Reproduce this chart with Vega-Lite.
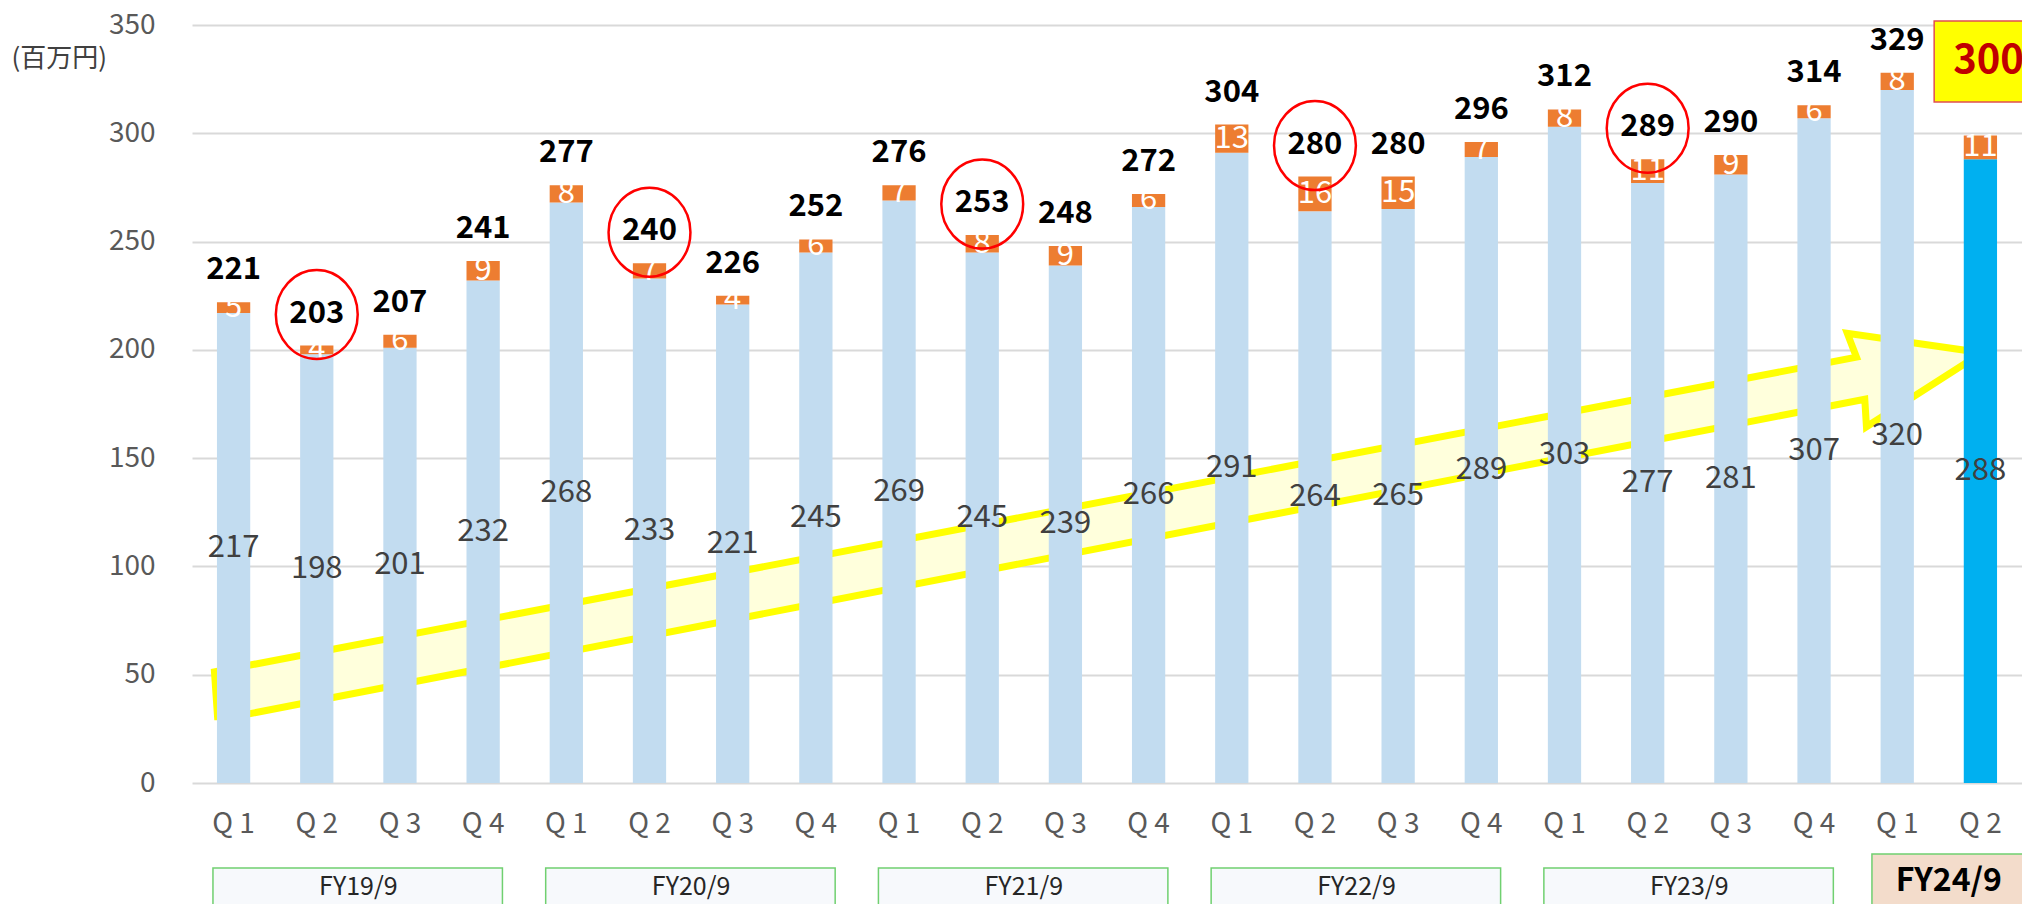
{
  "$schema": "https://vega.github.io/schema/vega-lite/v6.json",
  "width": 1830,
  "height": 758,
  "autosize": {"type": "none"},
  "padding": {"left": 192, "top": 25, "right": 0, "bottom": 121},
  "background": "white",
  "config": {
    "view": {"stroke": null},
    "font": "Noto Sans CJK JP",
    "axisY": {
      "domain": false, "ticks": false, "tickSize": 0, "labelPadding": 37,
      "labelFontSize": 28, "labelColor": "#595959", "labelFont": "Noto Sans CJK JP",
      "gridColor": "#D9D9D9", "gridWidth": 2,
      "titleAngle": 0, "titleAlign": "left", "titleBaseline": "middle", "titleX": -181, "titleY": 33,
      "titleFontSize": 26, "titleFontWeight": "normal", "titleColor": "#404040", "titleFont": "Noto Sans CJK JP"
    },
    "axisX": {
      "domain": false, "ticks": false, "tickSize": 0, "grid": false, "labelPadding": 41,
      "labelBaseline": "middle", "labelFontSize": 28, "labelColor": "#595959", "labelFont": "Noto Sans CJK JP",
      "labelAngle": 0, "title": null
    }
  },
  "datasets": {
    "main": [
      {"q": "FY19-Q1", "base": 217, "other": 5, "total": 221},
      {"q": "FY19-Q2", "base": 198, "other": 4, "total": 203},
      {"q": "FY19-Q3", "base": 201, "other": 6, "total": 207},
      {"q": "FY19-Q4", "base": 232, "other": 9, "total": 241},
      {"q": "FY20-Q1", "base": 268, "other": 8, "total": 277},
      {"q": "FY20-Q2", "base": 233, "other": 7, "total": 240},
      {"q": "FY20-Q3", "base": 221, "other": 4, "total": 226},
      {"q": "FY20-Q4", "base": 245, "other": 6, "total": 252},
      {"q": "FY21-Q1", "base": 269, "other": 7, "total": 276},
      {"q": "FY21-Q2", "base": 245, "other": 8, "total": 253},
      {"q": "FY21-Q3", "base": 239, "other": 9, "total": 248},
      {"q": "FY21-Q4", "base": 266, "other": 6, "total": 272},
      {"q": "FY22-Q1", "base": 291, "other": 13, "total": 304},
      {"q": "FY22-Q2", "base": 264, "other": 16, "total": 280},
      {"q": "FY22-Q3", "base": 265, "other": 15, "total": 280},
      {"q": "FY22-Q4", "base": 289, "other": 7, "total": 296},
      {"q": "FY23-Q1", "base": 303, "other": 8, "total": 312},
      {"q": "FY23-Q2", "base": 277, "other": 11, "total": 289},
      {"q": "FY23-Q3", "base": 281, "other": 9, "total": 290},
      {"q": "FY23-Q4", "base": 307, "other": 6, "total": 314},
      {"q": "FY24-Q1", "base": 320, "other": 8, "total": 329},
      {"q": "FY24-Q2", "base": 288, "other": 11, "total": 300}
    ],
    "arrow": [
      {"i": 1, "ax": 0.31, "ay": 29.1},
      {"i": 2, "ax": 0.27, "ay": 51.3},
      {"i": 3, "ax": 20.01, "ay": 196.6},
      {"i": 4, "ax": 19.9, "ay": 207.6},
      {"i": 5, "ax": 21.52, "ay": 198.7},
      {"i": 6, "ax": 20.13, "ay": 164.5},
      {"i": 7, "ax": 20.11, "ay": 177.2},
      {"i": 8, "ax": 0.31, "ay": 29.1}
    ],
    "fy": [
      {"fy": "FY19/9", "first": "FY19-Q1", "last": "FY19-Q4"},
      {"fy": "FY20/9", "first": "FY20-Q1", "last": "FY20-Q4"},
      {"fy": "FY21/9", "first": "FY21-Q1", "last": "FY21-Q4"},
      {"fy": "FY22/9", "first": "FY22-Q1", "last": "FY22-Q4"},
      {"fy": "FY23/9", "first": "FY23-Q1", "last": "FY23-Q4"}
    ]
  },
  "resolve": {"scale": {"x": "independent"}, "axis": {"x": "independent"}},
  "layer": [
    {
      "data": {"name": "arrow"},
      "mark": {"type": "line", "fill": "#FFFFDC", "stroke": "#FFFF00", "strokeWidth": 7, "strokeJoin": "miter", "interpolate": "linear"},
      "encoding": {
        "x": {"field": "ax", "type": "quantitative", "scale": {"domain": [0, 22], "nice": false, "zero": false}, "axis": null},
        "y": {"field": "ay", "type": "quantitative", "scale": {"domain": [0, 350], "nice": false}, "title": "(百万円)",
              "axis": {"values": [0, 50, 100, 150, 200, 250, 300, 350]}},
        "order": {"field": "i", "type": "quantitative"}
      }
    },
    {
      "layer": [
        {
          "data": {"name": "main"},
          "transform": [{"fold": ["base", "other"], "as": ["seg", "v"]}],
          "mark": {"type": "bar"},
          "encoding": {
            "x": {"field": "q", "type": "nominal", "scale": {"paddingInner": 0.6, "paddingOuter": 0.3},
                  "axis": {"labelExpr": "'Q ' + slice(datum.value, -1)"}},
            "y": {"field": "v", "type": "quantitative", "stack": "zero", "scale": {"domain": [0, 350], "nice": false}, "title": "(百万円)",
                  "axis": {"values": [0, 50, 100, 150, 200, 250, 300, 350]}},
            "order": {"field": "seg", "sort": "ascending"},
            "color": {"field": "seg", "type": "nominal", "legend": null,
                      "scale": {"domain": ["base", "other"], "range": ["#C2DCF0", "#ED7D31"]},
                      "condition": {"test": "datum.seg == 'base' && datum.q == 'FY24-Q2'", "value": "#00B0F0"}}
          }
        },
        {
          "data": {"name": "main"},
          "transform": [
            {"fold": ["base", "other"], "as": ["seg", "v"]},
            {"stack": "v", "groupby": ["q"], "sort": [{"field": "seg", "order": "ascending"}], "as": ["s0", "s1"]},
            {"fold": ["s0", "s1"], "as": ["edge", "ey"]},
            {"aggregate": [{"op": "mean", "field": "ey", "as": "mid"}], "groupby": ["q", "seg", "v"]}
          ],
          "mark": {"type": "text", "fontSize": 31, "baseline": "middle", "align": "center"},
          "encoding": {
            "x": {"field": "q", "type": "nominal"},
            "y": {"field": "mid", "type": "quantitative", "scale": {"domain": [0, 350], "nice": false}, "title": "(百万円)",
                  "axis": {"values": [0, 50, 100, 150, 200, 250, 300, 350]}},
            "text": {"field": "v"},
            "color": {"condition": {"test": "datum.seg == 'other'", "value": "#FFFFFF"}, "value": "#404040"}
          }
        },
        {
          "data": {"name": "main"},
          "transform": [
            {"fold": ["base", "other"], "as": ["seg", "v"]},
            {"stack": "v", "groupby": ["q"], "sort": [{"field": "seg", "order": "ascending"}], "as": ["s0", "s1"]},
            {"filter": "datum.seg == 'other' && datum.q != 'FY24-Q2'"}
          ],
          "mark": {"type": "text", "fontSize": 31, "fontWeight": "bold", "baseline": "middle", "align": "center", "dy": -32, "color": "#000000"},
          "encoding": {
            "x": {"field": "q", "type": "nominal"},
            "y": {"field": "s1", "type": "quantitative", "scale": {"domain": [0, 350], "nice": false}, "title": "(百万円)",
                  "axis": {"values": [0, 50, 100, 150, 200, 250, 300, 350]}},
            "text": {"field": "total"}
          }
        },
        {
          "data": {"name": "main"},
          "transform": [
            {"fold": ["base", "other"], "as": ["seg", "v"]},
            {"stack": "v", "groupby": ["q"], "sort": [{"field": "seg", "order": "ascending"}], "as": ["s0", "s1"]},
            {"filter": "datum.seg == 'other' && indexof(datum.q, 'Q2') >= 0 && datum.q != 'FY24-Q2'"}
          ],
          "mark": {"type": "point", "shape": "M -0.92 0 A 0.92 1 0 1 0 0.92 0 A 0.92 1 0 1 0 -0.92 0 Z",
                   "size": 7921, "filled": false, "stroke": "#FF0000", "strokeWidth": 2.5, "opacity": 1},
          "encoding": {
            "x": {"field": "q", "type": "nominal"},
            "y": {"field": "s1", "type": "quantitative", "scale": {"domain": [0, 350], "nice": false}, "title": "(百万円)",
                  "axis": {"values": [0, 50, 100, 150, 200, 250, 300, 350]}},
            "yOffset": {"value": -31}
          }
        },
        {
          "data": {"name": "main"},
          "transform": [{"filter": "datum.q == 'FY24-Q2'"}],
          "mark": {"type": "rect", "fill": "#FFFF00", "stroke": "#E05050", "strokeWidth": 1.5},
          "encoding": {
            "x": {"field": "q", "type": "nominal", "bandPosition": -0.89},
            "x2": {"field": "q", "bandPosition": 3},
            "y": {"datum": 351.8, "type": "quantitative", "scale": {"domain": [0, 350], "nice": false}},
            "y2": {"datum": 314.4}
          }
        },
        {
          "data": {"name": "main"},
          "transform": [{"filter": "datum.q == 'FY24-Q2'"}],
          "mark": {"type": "text", "fontSize": 40, "fontWeight": "bold", "color": "#C00000", "align": "left", "baseline": "middle"},
          "encoding": {
            "x": {"field": "q", "type": "nominal", "bandPosition": -0.32},
            "y": {"datum": 333.3, "type": "quantitative", "scale": {"domain": [0, 350], "nice": false}},
            "text": {"field": "total"}
          }
        },
        {
          "data": {"name": "fy"},
          "mark": {"type": "rect", "fill": "#F7F9FC", "stroke": "#70D070", "strokeWidth": 1.5},
          "encoding": {
            "x": {"field": "first", "type": "nominal", "bandPosition": -0.12},
            "x2": {"field": "last", "bandPosition": 1.08},
            "y": {"datum": -39.2, "type": "quantitative", "scale": {"domain": [0, 350], "nice": false}},
            "y2": {"datum": -70}
          }
        },
        {
          "data": {"name": "fy"},
          "mark": {"type": "text", "fontSize": 25, "color": "#262626", "align": "center", "baseline": "middle"},
          "encoding": {
            "x": {"field": "first", "type": "nominal", "bandPosition": 4.25},
            "y": {"datum": -48, "type": "quantitative", "scale": {"domain": [0, 350], "nice": false}},
            "text": {"field": "fy"}
          }
        },
        {
          "data": {"name": "main"},
          "transform": [{"filter": "datum.q == 'FY24-Q1'"}],
          "mark": {"type": "rect", "fill": "#F3DCCB", "stroke": "#70D070", "strokeWidth": 1.5},
          "encoding": {
            "x": {"field": "q", "type": "nominal", "bandPosition": -0.26},
            "x2": {"field": "q", "bandPosition": 6},
            "y": {"datum": -32.8, "type": "quantitative", "scale": {"domain": [0, 350], "nice": false}},
            "y2": {"datum": -70}
          }
        },
        {
          "data": {"name": "main"},
          "transform": [{"filter": "datum.q == 'FY24-Q1'"}],
          "mark": {"type": "text", "fontSize": 32, "fontWeight": "bold", "color": "#000000", "align": "center", "baseline": "middle"},
          "encoding": {
            "x": {"field": "q", "type": "nominal", "bandPosition": 2.05},
            "y": {"datum": -45.2, "type": "quantitative", "scale": {"domain": [0, 350], "nice": false}},
            "text": {"value": "FY24/9"}
          }
        }
      ]
    }
  ]
}
